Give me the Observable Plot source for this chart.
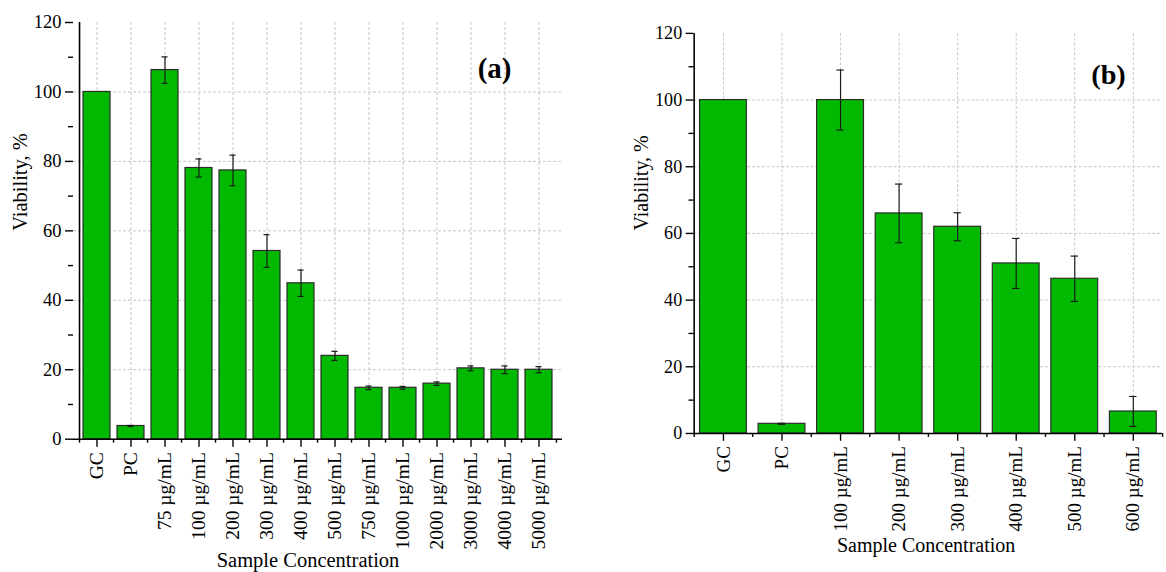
<!DOCTYPE html>
<html><head><meta charset="utf-8">
<script src="https://cdn.jsdelivr.net/npm/d3@7"></script>
<script src="https://cdn.jsdelivr.net/npm/@observablehq/plot@0.6"></script>
<style>
html,body{margin:0;padding:0;background:#fff;overflow:hidden;}
#wrap{position:relative;width:1166px;height:572px;overflow:hidden;background:#fff;}
#a,#b{position:absolute;top:0;}
#a{left:0;} #b{left:600px;}
#wrap svg, #wrap svg text{font-family:"Liberation Serif","Times New Roman",Times,serif !important;}
</style></head><body><div id="wrap"><div id="a"></div><div id="b"></div></div>
<script>
// ---- data ----
const catsA = ["GC","PC","75 µg/mL","100 µg/mL","200 µg/mL","300 µg/mL","400 µg/mL","500 µg/mL","750 µg/mL","1000 µg/mL","2000 µg/mL","3000 µg/mL","4000 µg/mL","5000 µg/mL"];
const valsA = [100, 3.8, 106.3, 78.1, 77.4, 54.2, 44.9, 24.0, 14.8, 14.8, 16.0, 20.4, 20.0, 20.0];
const errsA = [0, 0.15, 3.8, 2.6, 4.4, 4.7, 3.8, 1.3, 0.5, 0.4, 0.5, 0.7, 1.1, 0.9];

const catsB = ["GC","PC","100 µg/mL","200 µg/mL","300 µg/mL","400 µg/mL","500 µg/mL","600 µg/mL"];
const valsB = [100, 2.9, 100, 66.0, 62.0, 51.0, 46.4, 6.6];
const errsB = [0, 0.15, 9.0, 8.8, 4.2, 7.5, 6.8, 4.5];

const yMajor = [0, 20, 40, 60, 80, 100, 120];
const yMinor = [10, 30, 50, 70, 90, 110];
const yGrid = [20, 40, 60, 80, 100];
const yTitle = "Viability, %";
const xTitle = "Sample Concentration";

const FONT = "Liberation Serif";
const GRID = "#c6c6c6";

function panel(o) {
  const {cats, vals, errs, width, height, mL, mR, mT, mB} = o;
  const data = cats.map((c, i) => ({cat: c, v: vals[i], e: errs[i]}));
  const step = (width - mL - mR) / cats.length;
  const bw = step * 0.8;
  const capInset = (bw - o.capW) / 2;
  const withErr = data.filter(d => d.e > 0);
  return Plot.plot({
    width, height, marginLeft: mL, marginRight: mR, marginTop: mT, marginBottom: mB,
    style: {fontFamily: FONT, color: "#000", background: "transparent", overflow: "visible"},
    x: {domain: cats, paddingInner: 0.2, paddingOuter: 0.1, axis: null},
    y: {domain: [0, 120], axis: null},
    marks: [
      Plot.gridX({stroke: GRID, strokeOpacity: 1, strokeDasharray: "3,2"}),
      Plot.gridY(yGrid, {stroke: GRID, strokeOpacity: 1, strokeDasharray: "3,2"}),
      Plot.barY(data, {x: "cat", y: "v", fill: "#00b900", stroke: "#2b2b2b", strokeWidth: 1.2}),
      Plot.ruleX(withErr, {x: "cat", y1: d => d.v - d.e, y2: d => d.v + d.e, stroke: "#1a1a1a", strokeWidth: 1.2}),
      Plot.tickY(withErr, {x: "cat", y: d => d.v + d.e, insetLeft: capInset, insetRight: capInset, stroke: "#1a1a1a", strokeWidth: 1.2}),
      Plot.tickY(withErr, {x: "cat", y: d => d.v - d.e, insetLeft: capInset, insetRight: capInset, stroke: "#1a1a1a", strokeWidth: 1.2}),
      Plot.ruleY([0], {stroke: "#000", strokeWidth: 1.6}),
      Plot.ruleX([cats[0]], {dx: -step / 2, y1: 0, y2: 120, stroke: "#000", strokeWidth: 1.6}),
      Plot.axisY({ticks: yMajor, tickSize: 8, tickPadding: 4, fontSize: 18.5, fontFamily: FONT, strokeWidth: 1.4, label: null}),
      Plot.axisY({ticks: yMinor, tickSize: 5, tickFormat: () => "", strokeWidth: 1.4, label: null}),
      Plot.axisX({tickSize: 8, tickPadding: 5, tickRotate: -90, fontSize: 19.5, fontFamily: FONT, strokeWidth: 1.4, label: null}),
      Plot.axisX({ticks: cats, tickSize: 4, tickFormat: () => "", dx: -step / 2, strokeWidth: 1.4, label: null}),
      Plot.axisX({ticks: [cats[cats.length - 1]], tickSize: 4, tickFormat: () => "", dx: step / 2, strokeWidth: 1.4, label: null}),
      Plot.text([yTitle], {frameAnchor: "left", rotate: -90, dx: o.yTitleDx, dy: o.yTitleDy, fontSize: 20.5, fontFamily: FONT, fill: "#000"}),
      Plot.text([xTitle], {frameAnchor: "bottom", lineAnchor: "bottom", dx: o.xTitleDx, dy: o.xTitleDy, fontSize: 20.5, fontFamily: FONT, fill: "#000"}),
      Plot.text([o.tag], {frameAnchor: "top-right", textAnchor: "end", lineAnchor: "bottom", dx: o.tagDx, dy: o.tagDy, fontSize: 29, fontWeight: "bold", fontFamily: FONT, fill: "#000"})
    ]
  });
}

document.getElementById("a").append(panel({
  cats: catsA, vals: valsA, errs: errsA,
  width: 580, height: 572, mL: 73, mR: 18, mT: 22, mB: 133.3,
  capW: 7, yTitleDx: -53.5, yTitleDy: 0, xTitleDx: -10, xTitleDy: 128,
  tag: "(a)", tagDx: -51, tagDy: 55
}));
document.getElementById("b").append(panel({
  cats: catsB, vals: valsB, errs: errsB,
  width: 580, height: 572, mL: 95.7, mR: 4.3, mT: 33.7, mB: 128.3,
  capW: 7.5, yTitleDx: -53.7, yTitleDy: -3, xTitleDx: -2, xTitleDy: 121.3,
  tag: "(b)", tagDx: -37.4, tagDy: 52
}));
</script></body></html>
